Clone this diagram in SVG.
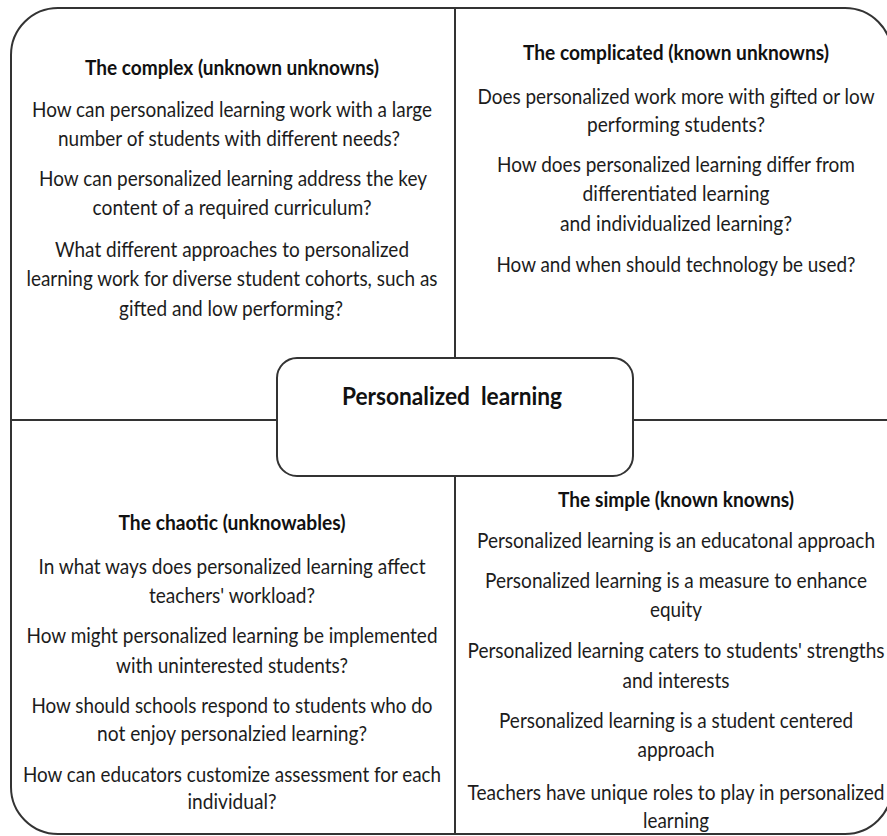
<svg xmlns="http://www.w3.org/2000/svg" width="887" height="836" viewBox="0 0 887 836">
  <style>
    .frame { fill: none; stroke: #333; stroke-width: 2; }
    .box { fill: #fff; stroke: #333; stroke-width: 2; }
    .rule { stroke: #333; stroke-width: 2; fill: none; }
    .t { font-family: Lato, "Open Sans", "Liberation Sans", sans-serif; font-size: 20.5px; fill: #1c1c1c; text-anchor: middle; }
    .h { font-weight: bold; fill: #111; }
    .c { font-size: 24px; font-weight: bold; fill: #111; }
  </style>
  <rect width="887" height="836" fill="#fff"/>

  <!-- outer rounded frame and quadrant dividers -->
  <g id="connectors">
    <rect class="frame" x="11" y="8" width="881" height="826" rx="47" ry="47"/>
    <line class="rule" x1="455" y1="8" x2="455" y2="358"/>
    <line class="rule" x1="455" y1="476" x2="455" y2="834"/>
    <line class="rule" x1="11" y1="420" x2="277" y2="420"/>
    <line class="rule" x1="633" y1="420" x2="892" y2="420"/>
  </g>

  <!-- top-left quadrant -->
  <g id="complex">
    <text class="t h" x="232" y="75" textLength="294" lengthAdjust="spacingAndGlyphs">The complex (unknown unknowns)</text>
    <text class="t" x="232" y="117" textLength="400" lengthAdjust="spacingAndGlyphs">How can personalized learning work with a large</text>
    <text class="t" x="229" y="146" textLength="342" lengthAdjust="spacingAndGlyphs">number of students with different needs?</text>
    <text class="t" x="233" y="186" textLength="388" lengthAdjust="spacingAndGlyphs">How can personalized learning address the key</text>
    <text class="t" x="232" y="215" textLength="279" lengthAdjust="spacingAndGlyphs">content of a required curriculum?</text>
    <text class="t" x="232" y="257" textLength="354" lengthAdjust="spacingAndGlyphs">What different approaches to personalized</text>
    <text class="t" x="232" y="286" textLength="411" lengthAdjust="spacingAndGlyphs">learning work for diverse student cohorts, such as</text>
    <text class="t" x="231" y="316" textLength="224" lengthAdjust="spacingAndGlyphs">gifted and low performing?</text>
  </g>

  <!-- top-right quadrant -->
  <g id="complicated">
    <text class="t h" x="676" y="60" textLength="306" lengthAdjust="spacingAndGlyphs">The complicated (known unknowns)</text>
    <text class="t" x="676" y="104" textLength="397" lengthAdjust="spacingAndGlyphs">Does personalized work more with gifted or low</text>
    <text class="t" x="676" y="132" textLength="178" lengthAdjust="spacingAndGlyphs">performing students?</text>
    <text class="t" x="676" y="172" textLength="358" lengthAdjust="spacingAndGlyphs">How does personalized learning differ from</text>
    <text class="t" x="676" y="201" textLength="187" lengthAdjust="spacingAndGlyphs">differentiated learning</text>
    <text class="t" x="676" y="231" textLength="232" lengthAdjust="spacingAndGlyphs">and individualized learning?</text>
    <text class="t" x="676" y="272" textLength="359" lengthAdjust="spacingAndGlyphs">How and when should technology be used?</text>
  </g>

  <!-- bottom-left quadrant -->
  <g id="chaotic">
    <text class="t h" x="232" y="530" textLength="227" lengthAdjust="spacingAndGlyphs">The chaotic (unknowables)</text>
    <text class="t" x="232" y="574" textLength="387" lengthAdjust="spacingAndGlyphs">In what ways does personalized learning affect</text>
    <text class="t" x="232" y="603" textLength="166" lengthAdjust="spacingAndGlyphs">teachers' workload?</text>
    <text class="t" x="232" y="643" textLength="411" lengthAdjust="spacingAndGlyphs">How might personalized learning be implemented</text>
    <text class="t" x="232" y="673" textLength="232" lengthAdjust="spacingAndGlyphs">with uninterested students?</text>
    <text class="t" x="232" y="713" textLength="401" lengthAdjust="spacingAndGlyphs">How should schools respond to students who do</text>
    <text class="t" x="232" y="741" textLength="270" lengthAdjust="spacingAndGlyphs">not enjoy personalzied learning?</text>
    <text class="t" x="232" y="782" textLength="418" lengthAdjust="spacingAndGlyphs">How can educators customize assessment for each</text>
    <text class="t" x="232" y="809" textLength="89" lengthAdjust="spacingAndGlyphs">individual?</text>
  </g>

  <!-- bottom-right quadrant -->
  <g id="simple">
    <text class="t h" x="676" y="507" textLength="236" lengthAdjust="spacingAndGlyphs">The simple (known knowns)</text>
    <text class="t" x="676" y="548" textLength="398" lengthAdjust="spacingAndGlyphs">Personalized learning is an educatonal approach</text>
    <text class="t" x="676" y="588" textLength="382" lengthAdjust="spacingAndGlyphs">Personalized learning is a measure to enhance</text>
    <text class="t" x="676" y="617" textLength="52" lengthAdjust="spacingAndGlyphs">equity</text>
    <text class="t" x="676" y="658" textLength="417" lengthAdjust="spacingAndGlyphs">Personalized learning caters to students' strengths</text>
    <text class="t" x="676" y="688" textLength="107" lengthAdjust="spacingAndGlyphs">and interests</text>
    <text class="t" x="676" y="728" textLength="354" lengthAdjust="spacingAndGlyphs">Personalized learning is a student centered</text>
    <text class="t" x="676" y="757" textLength="77" lengthAdjust="spacingAndGlyphs">approach</text>
    <text class="t" x="676" y="800" textLength="417" lengthAdjust="spacingAndGlyphs">Teachers have unique roles to play in personalized</text>
    <text class="t" x="676" y="828" textLength="66" lengthAdjust="spacingAndGlyphs">learning</text>
  </g>

  <!-- central node -->
  <g id="personalized-learning">
    <rect class="box" x="277" y="358" width="356" height="118" rx="20" ry="20"/>
    <text class="t c" x="452" y="405" textLength="220" lengthAdjust="spacingAndGlyphs">Personalized&#160; learning</text>
  </g>
</svg>
